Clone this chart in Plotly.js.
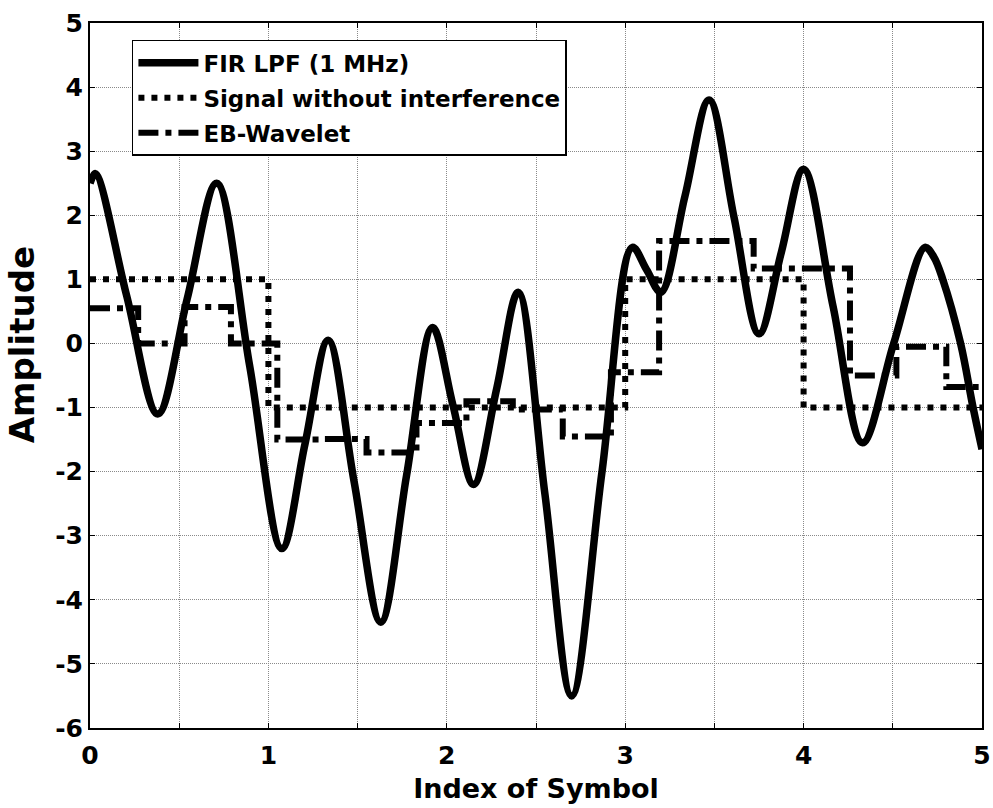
<!DOCTYPE html>
<html>
<head>
<meta charset="utf-8">
<script src="https://cdn.plot.ly/plotly-3.0.1.min.js"></script>
<style>html,body{margin:0;padding:0;background:#fff;}#chart{width:993px;height:808px;}</style>
</head>
<body>
<div id="chart"></div>
<script>
// FIR LPF (1 MHz) output
const firX = [0.00, 0.03, 0.205, 0.38, 0.545, 0.71, 0.895, 1.075, 1.205, 1.335, 1.48, 1.63, 1.775, 1.92, 2.035, 2.15, 2.28, 2.40, 2.55, 2.70, 2.87, 3.04, 3.12, 3.20, 3.335, 3.47, 3.61, 3.75, 3.875, 4.00, 4.165, 4.33, 4.505, 4.68, 4.73, 4.78, 4.88, 4.95, 5.00];
const firY = [2.50, 2.65, 0.75, -1.10, 0.70, 2.50, -0.35, -3.20, -1.57, 0.05, -2.15, -4.35, -2.05, 0.25, -0.97, -2.20, -0.70, 0.80, -2.35, -5.50, -2.00, 1.50, 1.15, 0.80, 2.30, 3.80, 1.97, 0.15, 1.42, 2.72, 0.58, -1.55, 0.00, 1.50, 1.35, 1.00, 0.00, -1.00, -1.65];

// Signal without interference (one value per symbol)
const sigX = [0, 1, 2, 3, 4, 5];
const sigY = [1, -1, -1, 1, -1, -1];

// EB-Wavelet step output
const ebX = [0, 0.27, 0.53, 0.79, 1.05, 1.30, 1.55, 1.83, 2.11, 2.37, 2.65, 2.92, 3.19, 3.45, 3.72, 3.98, 4.26, 4.52, 4.80, 5.00];
const ebY = [0.55, 0.00, 0.57, 0.00, -1.50, -1.49, -1.70, -1.24, -0.90, -1.03, -1.45, -0.45, 1.60, 1.60, 1.17, 1.17, -0.50, -0.05, -0.68, -0.68];

const names = ['FIR LPF (1 MHz)', 'Signal without interference', 'EB-Wavelet'];
const xTickVals = [0, 0.5, 1, 1.5, 2, 2.5, 3, 3.5, 4, 4.5, 5];
const xTickText = ['0', '', '1', '', '2', '', '3', '', '4', '', '5'];
const yTickVals = [-6, -5, -4, -3, -2, -1, 0, 1, 2, 3, 4, 5];
const yTickText = ['-6', '-5', '-4', '-3', '-2', '-1', '0', '1', '2', '3', '4', '5'];
const xTitle = 'Index of Symbol';
const yTitle = 'Amplitude';

const FONT = 'DejaVu Sans, Verdana, sans-serif';

const traces = [
  {x: firX, y: firY, name: names[0], legendgroup: 'a', type: 'scatter', mode: 'lines',
   line: {color: '#000', width: 7.5, shape: 'spline', smoothing: 1}},
  {x: sigX, y: sigY, name: names[1], legendgroup: 'b', type: 'scatter', mode: 'lines',
   line: {color: '#000', width: 6, shape: 'hv', dash: '6px,7px'}},
  {x: ebX, y: ebY, name: names[2], legendgroup: 'c', type: 'scatter', mode: 'lines',
   line: {color: '#000', width: 6, shape: 'hv', dash: '20px,7px,6px,7px'}}
];

const axisCommon = {
  showline: true, linecolor: '#000', linewidth: 2, mirror: 'ticks',
  ticks: 'inside', ticklen: 5, tickcolor: '#000', tickwidth: 1,
  showgrid: true, gridcolor: '#8a8a8a', gridwidth: 1, griddash: '1px,1px',
  zeroline: false,
  tickfont: {family: FONT, size: 25, color: '#000', weight: 'bold'}
};

const layout = {
  width: 993, height: 808,
  margin: {l: 90, r: 11, t: 23, b: 80},
  paper_bgcolor: '#fff', plot_bgcolor: '#fff',
  font: {family: FONT, color: '#000'},
  showlegend: true,
  legend: {
    x: 0.047, y: 0.976, xanchor: 'left', yanchor: 'top',
    bgcolor: '#fff', bordercolor: '#000', borderwidth: 1.5,
    font: {family: FONT, size: 23, color: '#000', weight: 'bold'},
    itemwidth: 60, tracegroupgap: 2
  },
  xaxis: Object.assign({}, axisCommon, {
    range: [0, 5], tickmode: 'array', tickvals: xTickVals, ticktext: xTickText,
    ticklabelstandoff: 4,
    title: {text: xTitle, font: {family: FONT, size: 27, color: '#000', weight: 'bold'}, standoff: 10}
  }),
  yaxis: Object.assign({}, axisCommon, {
    range: [-6, 5], tickmode: 'array', tickvals: yTickVals, ticktext: yTickText
  }),
  annotations: [{
    text: yTitle, xref: 'paper', yref: 'paper', x: -0.0762, y: 0.543,
    xanchor: 'center', yanchor: 'middle', textangle: -90, showarrow: false,
    font: {family: FONT, size: 34, color: '#000', weight: 'bold'}
  }]
};

Plotly.newPlot('chart', traces, layout, {displayModeBar: false, staticPlot: true});
</script>
</body>
</html>
